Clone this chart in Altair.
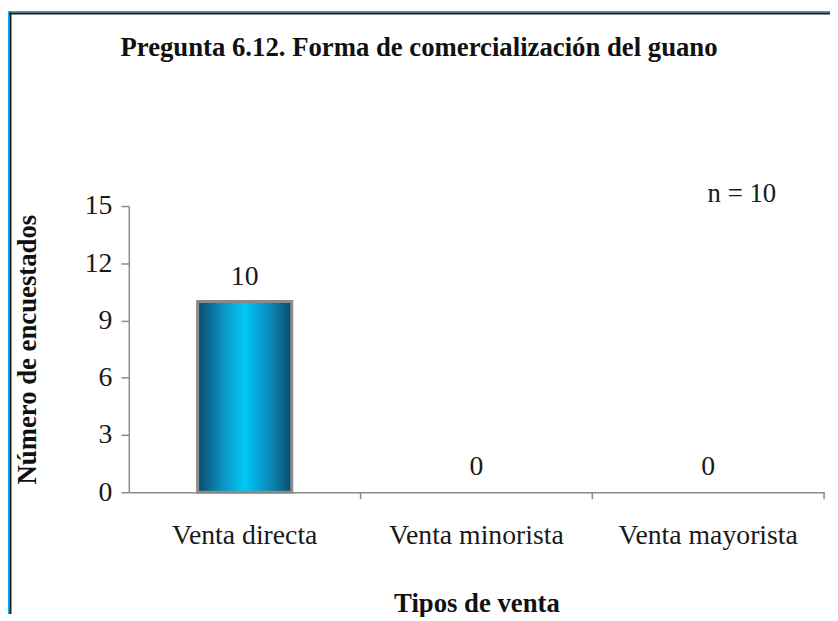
import altair as alt
import pandas as pd

categorias = ["Venta directa", "Venta minorista", "Venta mayorista"]
valores = [10, 0, 0]
y_ticks = [0, 3, 6, 9, 12, 15]
titulo = "Pregunta 6.12. Forma de comercialización del guano"
nota = "n = 10"
titulo_x = "Tipos de venta"
titulo_y = "Número de encuestados"

df = pd.DataFrame({"tipo": categorias, "n": valores})
one = pd.DataFrame({"k": [0]})

W, H = 702, 289
PL, PT, PR, PB = 122, 197, 6, 123
SERIF = "Liberation Serif"
BLUE = "#00B2F5"
GRAY = "#8a8a8a"

xs = alt.Scale(domain=categorias, paddingInner=0, paddingOuter=0)
ys = alt.Scale(domain=[0, 15], nice=False)

grad = alt.Gradient(
    gradient="linear",
    stops=[
        alt.GradientStop(color="#0b4a68", offset=0),
        alt.GradientStop(color="#0a8fc0", offset=0.25),
        alt.GradientStop(color="#00c8f6", offset=0.5),
        alt.GradientStop(color="#0a8fc0", offset=0.75),
        alt.GradientStop(color="#0b4a68", offset=1),
    ],
    x1=0, x2=1, y1=0, y2=0,
)

base = alt.Chart(df)

bars = base.mark_bar(size=95, color=grad, stroke=GRAY, strokeWidth=3).encode(
    x=alt.X("tipo:N", scale=xs, sort=categorias, title=titulo_x,
            axis=alt.Axis(labelAngle=0, ticks=False, domainColor=GRAY, domainWidth=1.5,
                          labelFont=SERIF, labelFontSize=28, labelColor="#1a1a1a",
                          labelPadding=30, labelLimit=0, titleFont=SERIF, titleFontSize=27,
                          titleFontWeight="bold", titleColor="#111",
                          titleY=112, titleBaseline="middle")),
    y=alt.Y("n:Q", scale=ys, title=titulo_y,
            axis=alt.Axis(values=y_ticks, grid=False, domainColor=GRAY, domainWidth=1.5,
                          tickColor=GRAY, tickSize=8, tickWidth=1.5, labelPadding=9,
                          labelFont=SERIF, labelFontSize=28, labelColor="#1a1a1a",
                          titleFont=SERIF, titleFontSize=27, titleFontWeight="bold",
                          titleColor="#111", titleX=-102, titleY=H / 2,
                          titleBaseline="middle", titleAlign="center")),
    strokeOpacity=alt.condition("datum.n > 0", alt.value(1), alt.value(0)),
)

labels = base.mark_text(font=SERIF, fontSize=28, color="#1a1a1a", baseline="middle", dy=-25).encode(
    x=alt.X("tipo:N", scale=xs, sort=categorias),
    y=alt.Y("n:Q", scale=ys),
    text=alt.Text("n:Q"),
)

xticks = base.mark_rule(color=GRAY, strokeWidth=1.5).encode(
    x=alt.X("tipo:N", scale=xs, sort=categorias, bandPosition=1),
    y=alt.value(H),
    y2=alt.value(H + 7),
)

title_df = pd.DataFrame({"t": [titulo]})
title_mark = alt.Chart(title_df).mark_text(font=SERIF, fontSize=27, fontWeight="bold",
                                            color="#111", baseline="middle", align="center").encode(
    text="t:N", x=alt.value(293), y=alt.value(-159)
)

note_df = pd.DataFrame({"t": [nota]})
note_mark = alt.Chart(note_df).mark_text(font=SERIF, fontSize=27, color="#1a1a1a",
                                          baseline="middle", align="center").encode(
    text="t:N", x=alt.value(619), y=alt.value(-12)
)

frame_top = alt.Chart(one).mark_rect(color=BLUE).encode(
    x=alt.value(-PL), x2=alt.value(W + PR), y=alt.value(-PT), y2=alt.value(-PT + 1.5))
frame_left = alt.Chart(one).mark_rect(color=BLUE).encode(
    x=alt.value(-PL), x2=alt.value(-PL + 1.5), y=alt.value(-PT), y2=alt.value(H + PB))
dark_top = alt.Chart(one).mark_rect(color="#1a1a1a").encode(
    x=alt.value(-PL + 1.5), x2=alt.value(W + PR), y=alt.value(-PT + 1.5), y2=alt.value(-PT + 3.5))
dark_left = alt.Chart(one).mark_rect(color="#1a1a1a").encode(
    x=alt.value(-PL + 1.5), x2=alt.value(-PL + 3.5), y=alt.value(-PT + 1.5), y2=alt.value(H + PB))

chart = alt.layer(
    frame_top, frame_left, dark_top, dark_left, bars, labels, xticks, title_mark, note_mark
).properties(
    width=W, height=H,
    autosize=alt.AutoSizeParams(type="none"),
    padding={"left": PL, "top": PT, "right": PR, "bottom": PB},
    background="white",
).configure_view(stroke=None)

chart.save("out.html", embed_options={"renderer": "svg", "actions": False})
